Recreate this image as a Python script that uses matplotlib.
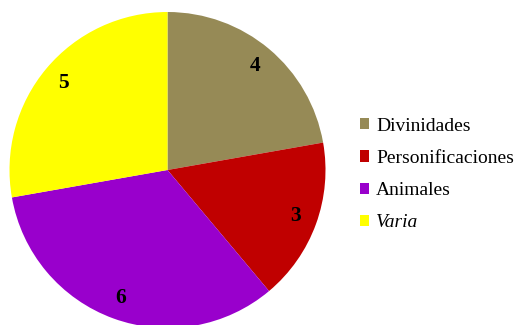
import matplotlib.pyplot as plt
from matplotlib.patches import Patch

plt.rcParams.update({
    'font.family': ['Liberation Serif', 'DejaVu Serif'],
    'figure.dpi': 100,
})

categories = ["Divinidades", "Personificaciones", "Animales", "Varia"]
values = [4, 3, 6, 5]
colors = ["#968A56", "#C00000", "#9900CC", "#FFFF00"]

fig = plt.figure(figsize=(5.16, 3.25), dpi=100)

# pie centre ~ (167, 170) px, radius ~158 px
cx, cy, r = 167.5, 170.0, 158.0
W, H = 516.0, 325.0
ax = fig.add_axes([(cx - r) / W, (H - cy - r) / H, 2 * r / W, 2 * r / H])

wedges, texts = ax.pie(values, colors=colors, startangle=90, counterclock=False,
                       labels=[str(v) for v in values], labeldistance=0.86,
                       textprops={'fontsize': 15.5, 'fontweight': 'bold', 'color': 'black'},
                       wedgeprops={'linewidth': 0})
for t in texts:
    t.set_ha('center')
    t.set_va('center')
ax.set_xlim(-1, 1)
ax.set_ylim(-1, 1)
ax.set_aspect('equal')
ax.axis('off')

handles = [Patch(facecolor=c, edgecolor='none') for c in colors]
leg = fig.legend(handles, categories, loc='upper left',
                 bbox_to_anchor=(350 / W, 1 - 108 / H), frameon=False,
                 prop={'family': 'Liberation Serif', 'size': 14},
                 handlelength=0.5, handleheight=0.5,
                 handletextpad=0.35, labelspacing=0.78, borderpad=0)
leg.get_texts()[3].set_style('italic')

fig.savefig("out.png", dpi=100)
